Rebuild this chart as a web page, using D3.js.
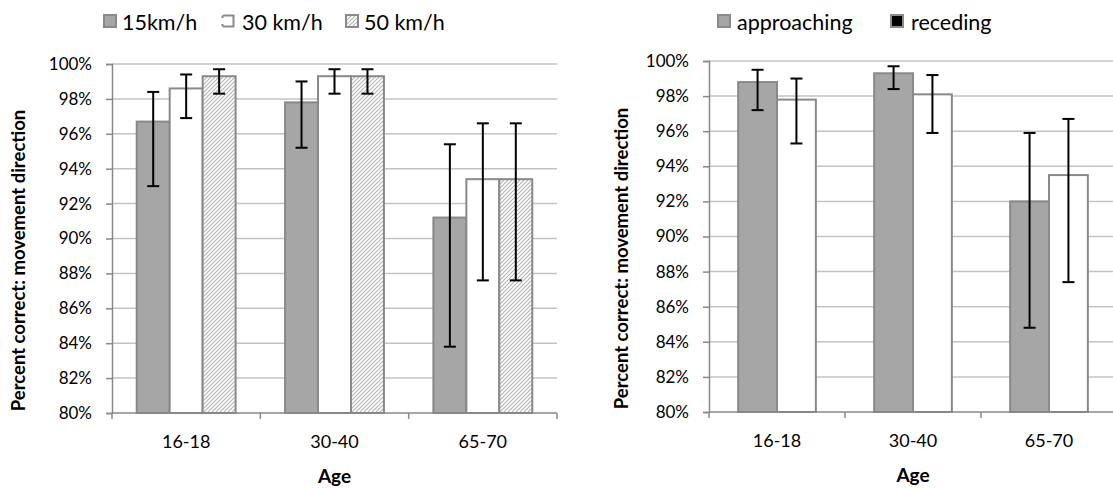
<!DOCTYPE html>
<html><head><meta charset="utf-8">
<script src="https://cdn.jsdelivr.net/npm/d3@7"></script>
<style>
body{margin:0;background:#fff;}
svg{display:block;font-family:Lato, "Open Sans", sans-serif;}
</style></head>
<body><svg id="c" width="1113" height="488"></svg>
<script>
const categories = ["16-18","30-40","65-70"];
// Left chart: speed series
const speedSeries = ["15km/h","30 km/h","50 km/h"];
const speedValues = [[96.7,97.8,91.2],[98.6,99.3,93.4],[99.3,99.3,93.4]];
const speedLow   = [[93.0,95.2,83.8],[96.9,98.3,87.6],[98.3,98.3,87.6]];
const speedHigh  = [[98.4,99.0,95.4],[99.4,99.7,96.6],[99.7,99.7,96.6]];
// Right chart: direction series
const dirSeries = ["approaching","receding"];
const dirValues = [[98.8,99.3,92.0],[97.8,98.1,93.5]];
const dirLow    = [[97.2,98.4,84.8],[95.3,95.9,87.4]];
const dirHigh   = [[99.5,99.7,95.9],[99.0,99.2,96.7]];
const yTicks = [80,82,84,86,88,90,92,94,96,98,100];
const yLabel = "Percent correct: movement direction";
const xLabel = "Age";

const svg = d3.select("#c");
const defs = svg.append("defs");
const pat = defs.append("pattern").attr("id","hatch").attr("patternUnits","userSpaceOnUse")
  .attr("width",4).attr("height",4);
pat.append("rect").attr("width",4).attr("height",4).attr("fill","#fff");
pat.append("path").attr("d","M-1,1 l2,-2 M0,4 l4,-4 M3,5 l2,-2").attr("stroke","#b4b4b4").attr("stroke-width",1.1);

const GRID="#c3c3c3", AXIS="#898989", BARSTROKE="#898989", GRAYFILL="#a6a6a6";

function drawChart(opt){
  const g = svg.append("g");
  const y = d3.scaleLinear().domain([80,100]).range([opt.y0,opt.y1]);
  const n = opt.series.length;
  const x0 = d3.scaleBand().domain(categories).range([opt.x0,opt.x1])
    .paddingInner(1.5/(n+1.5)).paddingOuter(0.75/(n+1.5));
  const x1 = d3.scaleBand().domain(d3.range(n)).range([0,x0.bandwidth()]);
  // gridlines
  g.append("g").selectAll("line").data(yTicks.filter(t=>t>80)).join("line")
    .attr("x1",opt.x0).attr("x2",opt.x1).attr("y1",d=>y(d)).attr("y2",d=>y(d))
    .attr("stroke",GRID).attr("stroke-width",1.5);
  // y axis
  const ya = g.append("g").attr("transform",`translate(${opt.x0},0)`)
    .call(d3.axisLeft(y).tickValues(yTicks).tickFormat(d=>d+"%").tickSize(6).tickPadding(14));
  ya.select(".domain").attr("stroke",AXIS).attr("stroke-width",1.5);
  ya.selectAll(".tick line").attr("stroke",AXIS).attr("stroke-width",1.5);
  ya.selectAll("text").attr("font-size",17).attr("fill","#000").attr("font-family","Lato");
  // bars
  for(let s=0;s<n;s++){
    g.append("g").selectAll("rect").data(categories).join("rect")
      .attr("x",(c)=>x0(c)+x1(s)).attr("width",x1.bandwidth())
      .attr("y",(c,i)=>y(opt.values[s][i])).attr("height",(c,i)=>y(80)-y(opt.values[s][i]))
      .attr("fill",opt.fills[s]).attr("stroke",BARSTROKE).attr("stroke-width",2);
  }
  // x axis
  g.append("line").attr("x1",opt.x0).attr("x2",opt.x1).attr("y1",y(80)).attr("y2",y(80))
    .attr("stroke",AXIS).attr("stroke-width",1.5);
  const step = x0.step();
  g.append("g").selectAll("line").data(d3.range(categories.length+1)).join("line")
    .attr("x1",i=>opt.x0+i*step).attr("x2",i=>opt.x0+i*step)
    .attr("y1",y(80)).attr("y2",y(80)+6).attr("stroke",AXIS).attr("stroke-width",1.5);
  g.append("g").selectAll("text").data(categories).join("text")
    .attr("x",c=>x0(c)+x0.bandwidth()/2).attr("y",y(80)+35).attr("text-anchor","middle")
    .attr("font-size",18).text(c=>c);
  // error bars
  for(let s=0;s<n;s++){
    categories.forEach((c,i)=>{
      const cx = x0(c)+x1(s)+x1.bandwidth()/2;
      const lo=y(opt.low[s][i]), hi=y(opt.high[s][i]);
      const eg=g.append("g").attr("stroke","#000").attr("stroke-width",2);
      eg.append("line").attr("x1",cx).attr("x2",cx).attr("y1",lo).attr("y2",hi);
      eg.append("line").attr("x1",cx-6).attr("x2",cx+6).attr("y1",lo).attr("y2",lo);
      eg.append("line").attr("x1",cx-6).attr("x2",cx+6).attr("y1",hi).attr("y2",hi);
    });
  }
  // axis titles
  g.append("text").attr("x",(opt.x0+opt.x0+step*3)/2).attr("y",y(80)+70).attr("text-anchor","middle")
    .attr("font-size",19).attr("font-weight","bold").text(xLabel);
  g.append("text").attr("transform",`translate(${opt.ylabX},${(opt.y0+opt.y1)/2+22}) rotate(-90)`)
    .attr("text-anchor","middle").attr("font-size",18.5).attr("font-weight","bold").text(yLabel);
  // legend
  opt.legend.forEach((L,i)=>{
    const lg=g.append("g").attr("transform",`translate(${L.x},14)`);
    if(L.icon==="open"){
      lg.append("rect").attr("x",1).attr("y",1).attr("width",12).attr("height",12).attr("fill","#fff");
      lg.append("path").attr("d","M2,1.5 H12.5 V12.5 H2 M1.5,4 V1.5 M1.5,10 V12.5").attr("fill","none")
        .attr("stroke","#898989").attr("stroke-width",2);
    } else {
      lg.append("rect").attr("x",1).attr("y",1).attr("width",12).attr("height",12)
        .attr("fill",L.fill).attr("stroke","#8a8a8a").attr("stroke-width",2);
    }
    lg.append("text").attr("x",L.tx).attr("y",16).attr("font-size",21.5).text(L.label);
  });
}

drawChart({x0:112,x1:557,y0:413,y1:64,ylabX:25,series:speedSeries,values:speedValues,low:speedLow,high:speedHigh,
  fills:[GRAYFILL,"#fff","url(#hatch)"],
  legend:[{x:103,tx:19,label:speedSeries[0],fill:GRAYFILL},{x:221,tx:21,label:speedSeries[1],icon:"open"},{x:345,tx:19,label:speedSeries[2],fill:"url(#hatch)"}]});
drawChart({x0:709,x1:1117,y0:412,y1:61,ylabX:628,series:dirSeries,values:dirValues,low:dirLow,high:dirHigh,
  fills:[GRAYFILL,"#fff"],
  legend:[{x:717,tx:20,label:dirSeries[0],fill:GRAYFILL},{x:890,tx:21,label:dirSeries[1],fill:"#000"}]});
</script></body></html>
